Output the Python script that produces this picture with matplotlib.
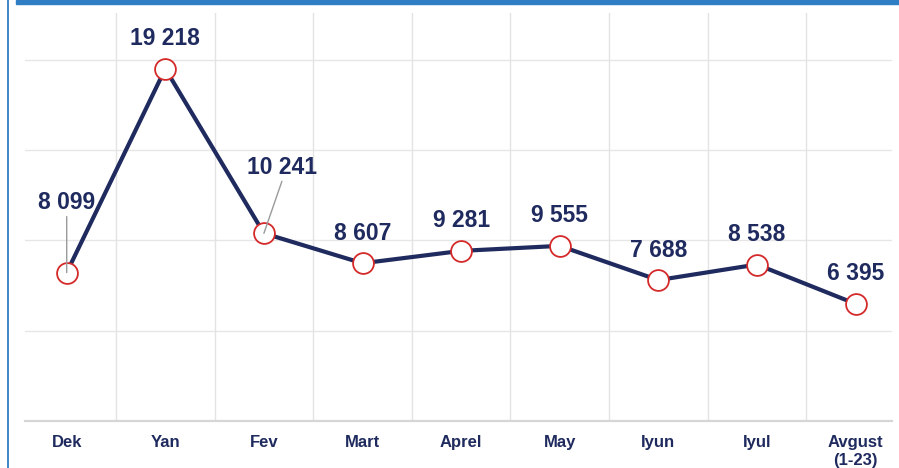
import matplotlib.pyplot as plt
from matplotlib.lines import Line2D
from matplotlib.patches import Rectangle

# data
months = ['Dek', 'Yan', 'Fev', 'Mart', 'Aprel', 'May', 'Iyun', 'Iyul', 'Avgust\n(1-23)']
values = [8099, 19218, 10241, 8607, 9281, 9555, 7688, 8538, 6395]
labels = ['8 099', '19 218', '10 241', '8 607', '9 281', '9 555', '7 688', '8 538', '6 395']

navy = '#1f2a5e'
red = '#d42a2a'
blue = '#2f7dc3'

plt.rcParams['font.family'] = ['Liberation Sans', 'DejaVu Sans']

fig = plt.figure(figsize=(8.99, 4.68), dpi=100)
W, H = 899, 468
ax = fig.add_axes([25 / W, (H - 421) / H, (892 - 25) / W, (421 - 13) / H])

x = list(range(len(months)))
ax.plot(x, values, color=navy, lw=3.0, zorder=3, solid_capstyle='round')
ax.plot(x, values, 'o', ms=15, mfc='white', mec=red, mew=1.3, zorder=4)

ax.set_xlim(-0.423, 8.37)
ax.set_ylim(0, 22260)

# horizontal grid (no value labels in the original)
step = 4924
for k in range(1, 5):
    ax.axhline(k * step, color='#e6e6e6', lw=1, zorder=0)
for k in range(len(months) - 1):
    ax.axvline(k + 0.5, color='#e3e3e3', lw=1, zorder=0)

for s in ['top', 'right', 'left']:
    ax.spines[s].set_visible(False)
ax.spines['bottom'].set_color('#d6d6d6')
ax.spines['bottom'].set_linewidth(1.6)

ax.set_yticks([])
ax.set_xticks(x)
ax.set_xticklabels(months, fontsize=12, fontweight='bold', color=navy, linespacing=1.25, va='top')
ax.tick_params(axis='x', length=0, pad=10)

# value labels, most sit straight above the marker
offsets = {0: (0, 70), 2: (18, 66)}
for i, (v, t) in enumerate(zip(values, labels)):
    dx, dy = offsets.get(i, (0, 30))
    ax.annotate(t, (i, v), xytext=(dx, dy), textcoords='offset pixels',
                ha='center', va='center', fontsize=16.5, fontweight='bold', color=navy, zorder=5)
    if i in offsets:
        ax.annotate('', (i, v), xytext=(dx, dy - 14), textcoords='offset pixels',
                    arrowprops=dict(arrowstyle='-', color='#9a9a9a', lw=1, shrinkA=0, shrinkB=0),
                    zorder=5)

# blue frame from the page
fig.patches.append(Rectangle((16 / W, 1 - 4 / H), 1, 4 / H, transform=fig.transFigure,
                             color=blue, zorder=10))
fig.lines.append(Line2D([7.5 / W, 7.5 / W], [0, 1], transform=fig.transFigure,
                        color=blue, lw=1.3, zorder=10))

fig.savefig('out.png', dpi=100)
